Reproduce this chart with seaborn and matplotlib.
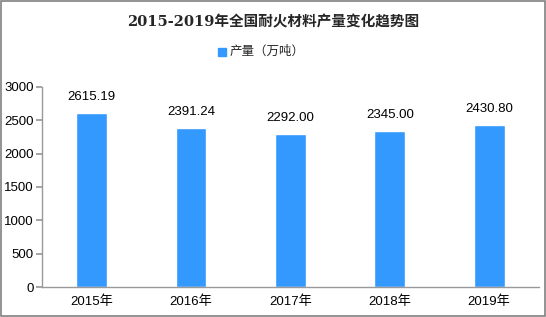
import matplotlib
matplotlib.use("Agg")
import matplotlib.pyplot as plt
import seaborn as sns
import pandas as pd
from matplotlib.patches import Rectangle

years = ["2015年", "2016年", "2017年", "2018年", "2019年"]
values = [2615.19, 2391.24, 2292.00, 2345.00, 2430.80]
value_labels = ["2615.19", "2391.24", "2292.00", "2345.00", "2430.80"]
yticks = [0, 500, 1000, 1500, 2000, 2500, 3000]
title = "2015-2019年全国耐火材料产量变化趋势图"
series_name = "产量（万吨）"

sns.set_theme(style="white")
fam = ['Liberation Sans', 'Noto Sans CJK SC']
plt.rcParams['font.family'] = fam

df = pd.DataFrame({"year": years, "value": values})
color = "#3399FF"

fig = plt.figure(figsize=(5.46, 3.17), dpi=100)
ax = fig.add_axes([0.0769, 0.0946, 0.910, 0.631])
sns.barplot(data=df, x="year", y="value", color=color, width=0.31, ax=ax, saturation=1)

ax.set_ylim(0, 3000)
ax.set_yticks(yticks)
ax.set_xlim(-0.5, 4.5)
ax.set_xlabel("")
ax.set_ylabel("")
for s in ["top", "right"]:
    ax.spines[s].set_visible(False)
for s in ["left", "bottom"]:
    ax.spines[s].set_color("#999999")
    ax.spines[s].set_linewidth(1)
ax.tick_params(axis="y", length=4, color="#999999", labelsize=9.5, pad=2, left=True)
ax.tick_params(axis="x", length=0, labelsize=9.5, pad=6)
for lab in ax.get_xticklabels() + ax.get_yticklabels():
    lab.set_family(fam)
    lab.set_color("black")

for p, txt in zip(ax.patches, value_labels):
    ax.annotate(txt, (p.get_x() + p.get_width() / 2, p.get_height()),
                xytext=(0, 7), textcoords="offset points", ha="center", va="bottom",
                fontsize=9.5, color="black")

fig.text(0.5, 0.93, title, ha="center", va="center", fontsize=10.5, fontweight="bold",
         family=['DejaVu Serif', 'Noto Sans CJK SC'])
# legend
fig.patches.append(Rectangle((218 / 546, 1 - 56 / 317), 8 / 546, 8 / 317,
                             transform=fig.transFigure, color=color, figure=fig))
fig.text(230 / 546, 1 - 51 / 317, series_name, ha="left", va="center", fontsize=9,
         family=['Noto Sans CJK SC', 'DejaVu Sans'])

# frame
fig.patches.append(Rectangle((0.001, 0.002), 0.997, 0.995, transform=fig.transFigure,
                             fill=False, edgecolor="#808080", linewidth=1.2, figure=fig))

fig.savefig("out.png", dpi=100)
